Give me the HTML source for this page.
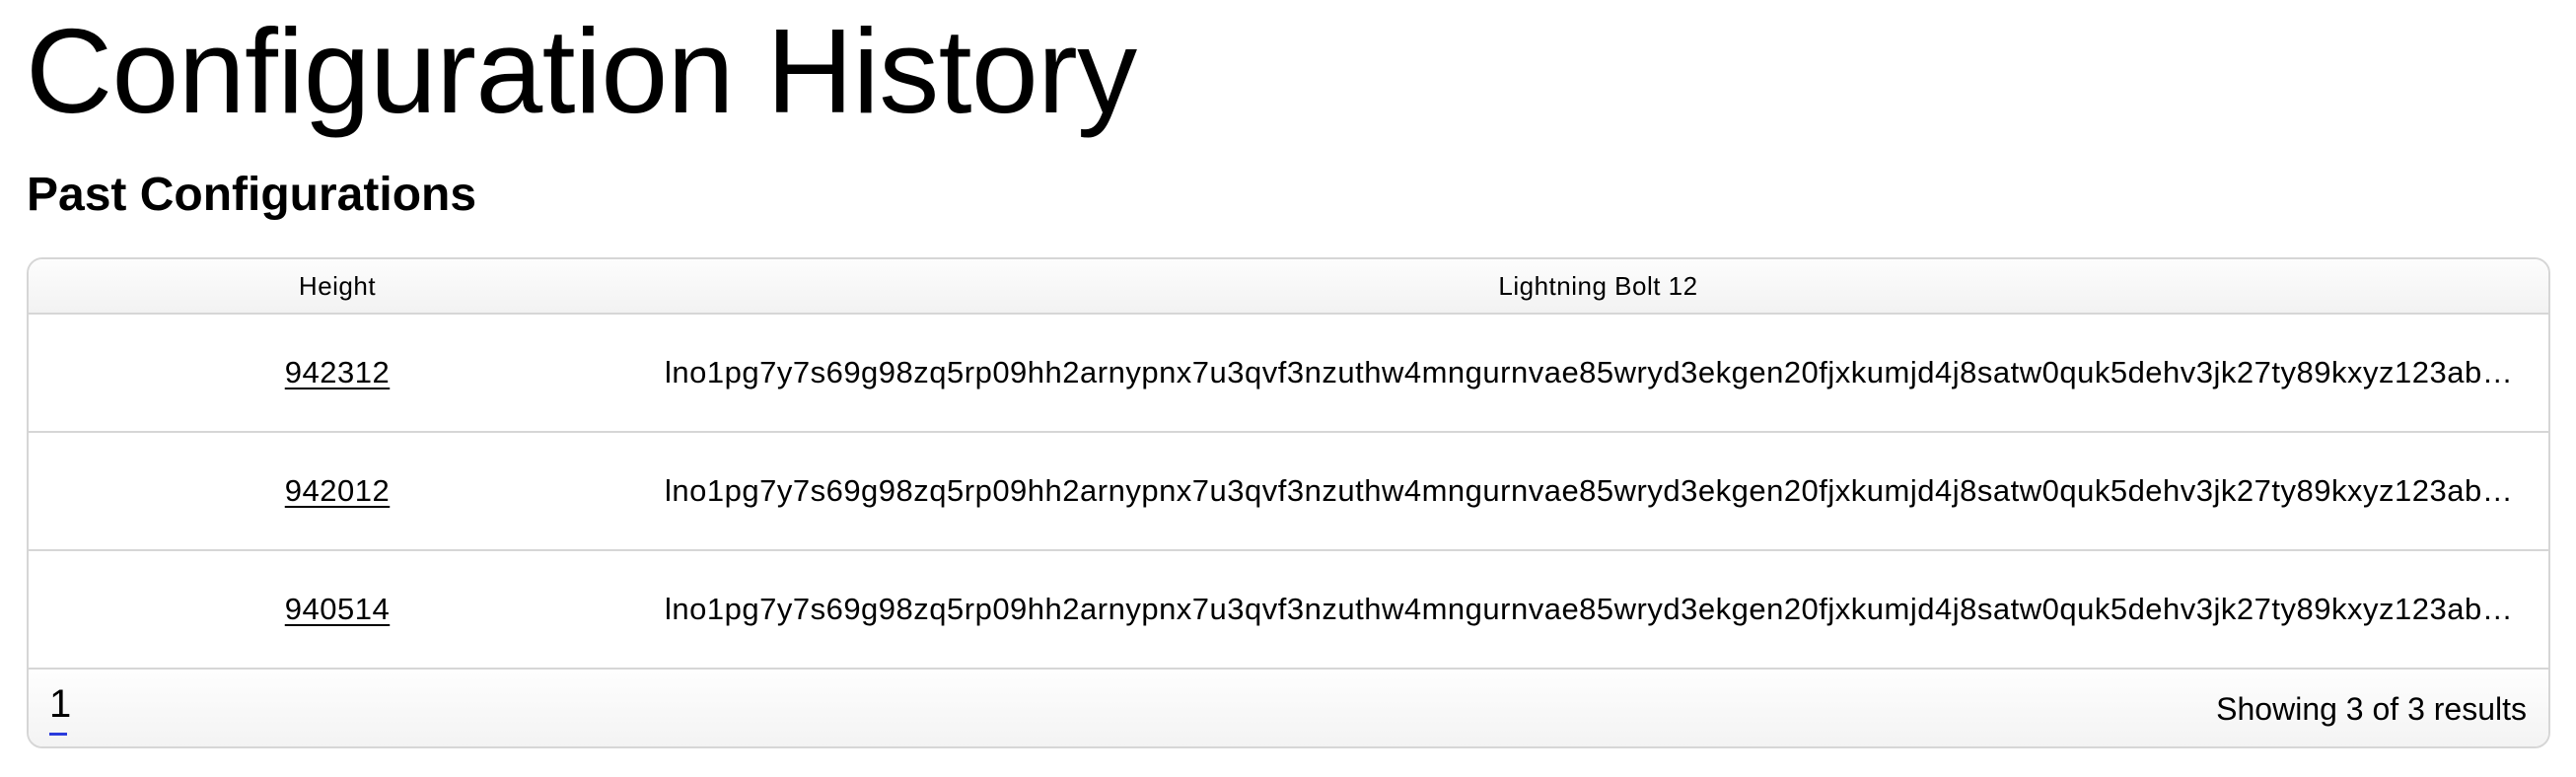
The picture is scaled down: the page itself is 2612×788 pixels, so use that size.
<!DOCTYPE html>
<html><head><meta charset="utf-8"><style>
*{margin:0;padding:0;box-sizing:border-box}
html,body{width:2612px;height:788px;background:#fff;overflow:hidden;font-family:"Liberation Sans",sans-serif;color:#000}
.t1{position:absolute;left:26px;top:2px;font-size:122px;line-height:140px;font-weight:400;letter-spacing:-0.6px}
.t2{position:absolute;left:27px;top:168px;font-size:48px;line-height:60px;font-weight:700}
.tbl{position:absolute;left:27px;top:261px;width:2559px;height:498px;border:2px solid #d6d6d6;border-radius:16px;overflow:hidden}
.hdr{position:absolute;left:0;top:0;width:100%;height:56px;background:linear-gradient(#fdfdfd,#f2f2f2);border-bottom:2px solid #d6d6d6}
.hdr div{position:absolute;top:0;line-height:54px;font-size:26px;text-align:center;letter-spacing:0.5px}
.row{position:absolute;left:0;width:100%;height:120px;border-bottom:2px solid #d6d6d6}
.row .h{position:absolute;left:0;width:626px;text-align:center;line-height:118px;font-size:31px;letter-spacing:0.5px}
.row .h span{text-decoration:underline;text-underline-offset:5px;text-decoration-thickness:2px}
.row .v{position:absolute;left:645px;width:1888px;line-height:118px;font-size:31px;letter-spacing:0.5px;white-space:nowrap;overflow:hidden;text-overflow:ellipsis}
.ftr{position:absolute;left:0;top:416px;width:100%;height:80px;background:linear-gradient(#fefefe,#f3f3f3)}
.pg{position:absolute;left:21px;top:10px;font-size:40px;line-height:50px}
.ul{position:absolute;left:21px;top:64px;width:18px;height:3px;background:#2a3bdc}
.sh{position:absolute;right:22px;top:18px;font-size:32px;line-height:44px}
</style></head><body>
<div class="t1">Configuration History</div>
<div class="t2">Past Configurations</div>
<div class="tbl">
<div class="hdr"><div style="left:0;width:626px">Height</div><div style="left:626px;width:1931px">Lightning Bolt 12</div></div>
<div class="row" style="top:56px"><div class="h"><span>942312</span></div><div class="v">lno1pg7y7s69g98zq5rp09hh2arnypnx7u3qvf3nzuthw4mngurnvae85wryd3ekgen20fjxkumjd4j8satw0quk5dehv3jk27ty89kxyz123abcdefghijklmnop</div></div>
<div class="row" style="top:176px"><div class="h"><span>942012</span></div><div class="v">lno1pg7y7s69g98zq5rp09hh2arnypnx7u3qvf3nzuthw4mngurnvae85wryd3ekgen20fjxkumjd4j8satw0quk5dehv3jk27ty89kxyz123abcdefghijklmnop</div></div>
<div class="row" style="top:296px"><div class="h"><span>940514</span></div><div class="v">lno1pg7y7s69g98zq5rp09hh2arnypnx7u3qvf3nzuthw4mngurnvae85wryd3ekgen20fjxkumjd4j8satw0quk5dehv3jk27ty89kxyz123abcdefghijklmnop</div></div>
<div class="ftr"><div class="pg">1</div><div class="ul"></div><div class="sh">Showing 3 of 3 results</div></div>
</div>
</body></html>
